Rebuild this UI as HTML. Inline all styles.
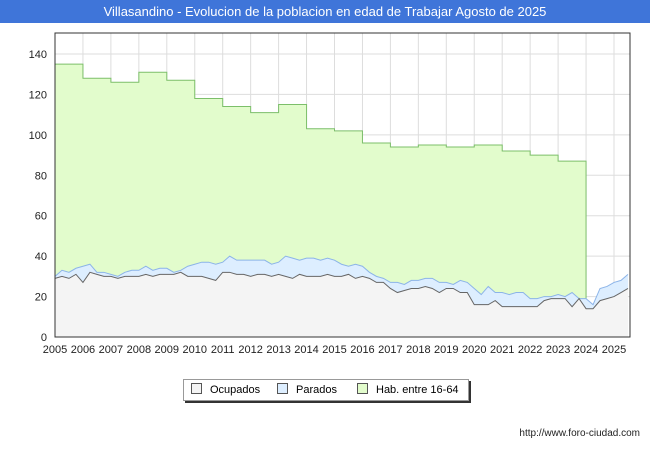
<!DOCTYPE html>
<html><head><meta charset="utf-8"><style>
body{margin:0;width:650px;height:450px;background:#fff;font-family:"Liberation Sans",sans-serif;overflow:hidden}
#title{position:absolute;left:0;top:0;width:650px;height:23px;background:#3f75d9;color:#fff;font-size:13px;text-align:center;line-height:23px}
</style></head><body>
<div id="title">Villasandino - Evolucion de la poblacion en edad de Trabajar Agosto de 2025</div>
<svg id="c" width="650" height="450" style="position:absolute;left:0;top:0"></svg>
<script>
const habYears=[2005,2006,2007,2008,2009,2010,2011,2012,2013,2014,2015,2016,2017,2018,2019,2020,2021,2022,2023];
const habValues=[135,128,126,131,127,118,114,111,115,103,102,96,94,95,94,95,92,90,87];
const ocupados=[29,30,29,31,27,32,31,30,30,29,30,30,30,31,30,31,31,31,32,30,30,30,29,28,32,32,31,31,30,31,31,30,31,30,29,31,30,30,30,31,30,30,31,29,30,29,27,27,24,22,23,24,24,25,24,22,24,24,22,22,16,16,16,18,15,15,15,15,15,15,18,19,19,19,15,19,14,14,18,19,20,22,24];
const parados=[1,3,3,3,8,4,1,2,1,1,2,3,3,4,3,3,3,1,1,5,6,7,8,8,5,8,7,7,8,7,7,6,6,10,10,7,9,9,8,8,8,6,4,7,5,3,3,2,3,5,3,4,4,4,5,5,3,2,6,5,8,5,9,4,7,6,7,7,4,4,2,1,2,1,7,0,5,2,6,6,7,6,7];
const yTicks=[0,20,40,60,80,100,120,140];
const xYears=[2005,2006,2007,2008,2009,2010,2011,2012,2013,2014,2015,2016,2017,2018,2019,2020,2021,2022,2023,2024,2025];
const L=55,R=630,T=33,B=337;
const X=y=>L+(y-2005)*27.95, Y=v=>B-v*(B-54)/140;
const s=document.getElementById('c'),NS='http://www.w3.org/2000/svg';
function mk(t,a,p){const e=document.createElementNS(NS,t);for(const k in a)e.setAttribute(k,a[k]);(p||s).appendChild(e);return e;}
let r=mk('rect',{x:L,y:T,width:R-L,height:B-T,fill:'#fff',stroke:'none'});

yTicks.forEach(v=>{const l=mk('line',{x1:L,x2:R,y1:Y(v),y2:Y(v),stroke:'#ddd'});
const t=mk('text',{x:L-8,y:Y(v)+4,'text-anchor':'end','font-size':11,fill:'#222'});t.textContent=v;});
xYears.forEach(y=>{const l=mk('line',{x1:X(y),x2:X(y),y1:T,y2:B,stroke:'#ddd'});
const t=mk('text',{x:X(y),y:B+16,'text-anchor':'middle','font-size':11,fill:'#222'});t.textContent=y;});
// hab step area
let hp='M'+X(habYears[0])+','+Y(0);
habYears.forEach((y,i)=>{hp+=' L'+X(y)+','+Y(habValues[i])+' L'+X(y+1)+','+Y(habValues[i]);});
hp+=' L'+X(habYears[habYears.length-1]+1)+','+Y(0)+'Z';
let h=mk('path',{d:hp,fill:'#e2fccc',stroke:'#7cbf6a','stroke-width':1});

const qx=i=>X(2005+i/4);
let tot='',oc='';
ocupados.forEach((v,i)=>{tot+=(i?' L':'M')+qx(i)+','+Y(v+parados[i]);oc+=(i?' L':'M')+qx(i)+','+Y(v);});
const n=ocupados.length-1,close=' L'+qx(n)+','+Y(0)+' L'+qx(0)+','+Y(0)+'Z';
let a=mk('path',{d:tot+close,fill:'#ddeeff',stroke:'none'});
let b=mk('path',{d:oc+close,fill:'#f4f4f4',stroke:'none'});
let c=mk('path',{d:tot,fill:'none',stroke:'#8cb4e8'});
let d=mk('path',{d:oc,fill:'none',stroke:'#666'});
let fr=mk('rect',{x:L,y:T,width:R-L,height:B-T,fill:'none',stroke:'#333'});
</script>
<div style="position:absolute;left:183px;top:379px;width:284px;height:20px;border:1px solid #999;box-shadow:2px 2px 0 #333;background:#fff;font-size:11px;line-height:20px">
<span style="position:absolute;left:7px"><i style="display:inline-block;width:9px;height:9px;background:#f4f4f4;border:1px solid #555;margin-right:8px;vertical-align:-1px"></i>Ocupados</span>
<span style="position:absolute;left:93px"><i style="display:inline-block;width:9px;height:9px;background:#ddeeff;border:1px solid #555;margin-right:8px;vertical-align:-1px"></i>Parados</span>
<span style="position:absolute;left:173px"><i style="display:inline-block;width:9px;height:9px;background:#e2fccc;border:1px solid #555;margin-right:8px;vertical-align:-1px"></i>Hab. entre 16-64</span>
</div>
<div style="position:absolute;right:10px;top:428px;font-size:10px;color:#222">http://www.foro-ciudad.com</div>
</body></html>
